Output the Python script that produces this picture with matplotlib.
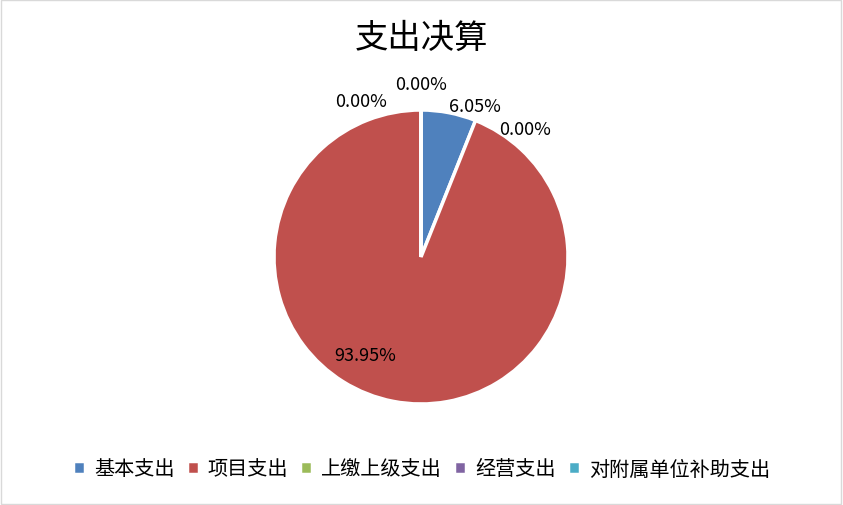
import matplotlib
matplotlib.use('Agg')
import matplotlib.pyplot as plt
from matplotlib.patches import Rectangle

plt.rcParams['font.family'] = ['Noto Sans CJK SC', 'DejaVu Sans']

# 数据
categories = ['基本支出', '项目支出', '上缴上级支出', '经营支出', '对附属单位补助支出']
shares = [6.05, 93.95, 0.0, 0.0, 0.0]
colors = ['#4F81BD', '#C0504D', '#9BBB59', '#8064A2', '#4BACC6']

# 标签位置（Excel 自动避让后的位置）
label_pos = [(0.37, 1.03), (-0.38, -0.67), (0.71, 0.87), (0.0, 1.18), (-0.41, 1.06)]

fig = plt.figure(figsize=(8.43, 5.06), dpi=100)
ax = fig.add_axes([274 / 843, 101 / 506, 294 / 843, 294 / 506])

wedges, texts, autotexts = ax.pie(
    shares, colors=colors, startangle=90, counterclock=False,
    autopct='%.2f%%', radius=1.0,
    wedgeprops=dict(edgecolor='white', linewidth=2.5),
    textprops=dict(fontsize=13, color='black'))
for t, pos in zip(autotexts, label_pos):
    t.set_position(pos)
    t.set_ha('center')
    t.set_va('center')
    t.set_clip_on(False)

ax.set_xlim(-1, 1)
ax.set_ylim(-1, 1)
ax.set_aspect('equal')
ax.axis('off')

fig.text(0.5, 1 - 38 / 506, '支出决算', ha='center', va='center', fontsize=24)

fig.legend(wedges, categories, loc='center', bbox_to_anchor=(0.5, 1 - 470 / 506),
           ncol=5, frameon=False, fontsize=14.5, handlelength=0.6, handleheight=0.6,
           handletextpad=0.45, columnspacing=0.6)

fig.patches.append(Rectangle((0.001, 0.001), 0.997, 0.997, transform=fig.transFigure,
                             fill=False, edgecolor='#D9D9D9', linewidth=1))

fig.savefig('out.png', dpi=100)
